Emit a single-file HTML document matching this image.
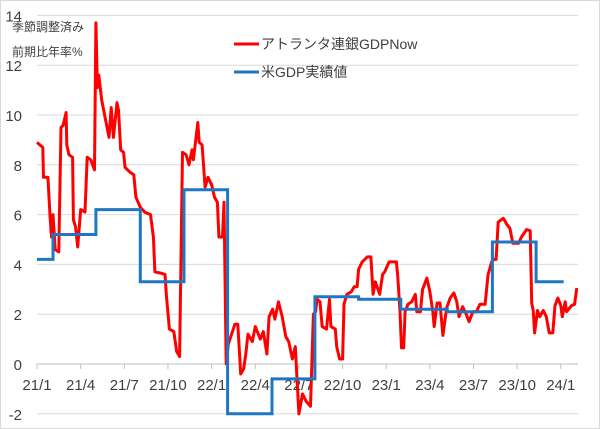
<!DOCTYPE html>
<html><head><meta charset="utf-8"><style>
html,body{margin:0;padding:0;background:#fff;}
svg{display:block;font-family:"Liberation Sans","Noto Sans CJK JP",sans-serif;}
</style></head><body>
<svg id="chart" width="600" height="429" viewBox="0 0 600 429" xmlns="http://www.w3.org/2000/svg">
<rect x="0.5" y="0.5" width="599" height="428" fill="#fff" stroke="#d9d9d9"/>
<g id="grid"></g>
<g id="yticks"></g>
<g id="xticks"></g>
<g id="series"></g>
<text x="12" y="31" font-size="12" fill="#404040">季節調整済み</text>
<text x="12" y="56" font-size="12" fill="#404040">前期比年率%</text>
<g>
<line x1="234" y1="44" x2="259" y2="44" stroke="#ff0000" stroke-width="3"/>
<text x="261" y="49" font-size="14" fill="#404040">アトランタ連銀GDPNow</text>
<line x1="234" y1="72" x2="259" y2="72" stroke="#1f77c4" stroke-width="3"/>
<text x="261" y="77" font-size="14" fill="#404040">米GDP実績値</text>
</g>
</svg>
<script>
const yTicks=[-2,0,2,4,6,8,10,12,14];
const xLabels=["21/1","21/4","21/7","21/10","22/1","22/4","22/7","22/10","23/1","23/4","23/7","23/10","24/1"];
const xLabelMonths=[0,3,6,9,12,15,18,21,24,27,30,33,36];
const actualStarts=[0,1.1,4.05,7.1,10.1,13.1,16.15,19.1,22.1,25.0,28.2,31.3,34.3];
const actualEnds=[1.1,4.05,7.1,10.1,13.1,16.15,19.1,22.1,25.0,28.2,31.3,34.3,36.2];
const actualValues=[4.2,5.2,6.2,3.3,7.0,-2.0,-0.6,2.7,2.6,2.2,2.1,4.9,3.3];
const nowMonths=[
0,0.4,0.45,0.75,0.9,1.0,1.1,1.25,1.5,1.65,
1.8,2.0,2.05,2.2,2.45,2.5,2.65,2.8,3.0,3.3,
3.45,3.7,3.95,4.05,4.15,4.25,4.45,4.75,4.95,5.1,
5.25,5.5,5.6,5.75,5.95,6.05,6.4,6.65,6.8,7.1,
7.4,7.8,8.0,8.1,8.5,8.8,8.9,9.1,9.4,9.6,
9.8,10.0,10.25,10.45,10.65,10.75,11.05,11.15,11.35,11.55,
11.75,12.0,12.2,12.4,12.5,12.75,12.85,13.0,13.15,13.6,
13.8,14.0,14.2,14.35,14.5,14.8,15.0,15.35,15.55,15.8,
15.95,16.2,16.35,16.6,16.85,17.1,17.3,17.55,17.75,18.0,
18.25,18.5,18.8,19.0,19.15,19.25,19.45,19.6,19.9,20.1,
20.2,20.5,20.6,20.8,21.0,21.1,21.3,21.6,21.8,22.0,
22.1,22.35,22.7,22.95,23.1,23.25,23.55,23.75,23.9,24.2,
24.5,24.7,24.8,24.95,25.05,25.2,25.3,25.5,25.75,26.0,
26.1,26.35,26.5,26.8,27.0,27.2,27.3,27.5,27.7,27.9,
28.15,28.4,28.65,28.85,29.0,29.25,29.5,29.7,29.95,30.2,
30.45,30.8,31.0,31.25,31.4,31.55,31.7,32.05,32.3,32.5,
32.7,33.1,33.3,33.65,33.9,34.0,34.1,34.2,34.4,34.55,
34.8,35.0,35.2,35.45,35.6,35.8,36.0,36.1,36.3,36.4,
36.75,36.95,37.1];
const nowValues=[
8.9,8.7,7.5,7.5,5.9,5.1,6.0,4.6,4.5,9.5,
9.6,10.1,8.8,8.4,8.3,5.8,5.5,4.7,6.2,6.1,
8.3,8.2,7.8,13.7,11.1,11.6,10.6,9.7,9.1,10.3,
9.1,10.5,10.2,8.6,8.5,7.9,7.7,7.6,6.7,6.3,
6.1,6.0,5.1,3.7,3.65,3.6,2.7,1.4,1.3,0.5,
0.3,8.5,8.4,8.0,8.6,8.2,9.7,8.9,8.8,7.1,
7.5,7.2,6.7,6.5,5.1,5.1,6.5,0.0,0.8,1.6,
1.6,-0.4,-0.2,0.4,1.2,0.9,1.5,1.0,1.3,0.4,
1.9,2.2,1.8,2.5,1.9,1.1,0.9,0.2,0.7,-2.0,
-1.2,-1.5,-1.7,2.0,2.1,2.6,2.5,1.5,1.4,2.6,
1.5,1.4,0.7,0.2,0.2,2.4,2.8,2.9,3.1,3.1,
3.8,4.1,4.3,4.3,2.8,3.3,2.8,3.6,3.7,4.1,
4.1,4.1,3.5,2.1,0.65,0.65,2.1,2.4,2.5,2.8,
2.1,2.1,3.0,3.45,2.9,2.1,1.5,2.45,2.45,1.15,
2.25,2.65,2.85,2.5,1.9,2.3,2.0,1.7,2.1,2.1,
2.4,2.4,3.6,4.1,4.2,4.2,5.7,5.85,5.6,5.45,
4.85,4.85,5.1,5.4,5.35,2.45,2.15,1.25,2.15,1.9,
2.15,1.9,1.25,1.25,2.35,2.65,2.35,1.9,2.5,2.1,
2.35,2.4,3.05];

const NS="http://www.w3.org/2000/svg";
const X0=37,XPM=14.55,Y0=364,YPU=24.9;
function xs(m){return X0+m*XPM;}
function ys(v){return Y0-v*YPU;}
function mk(tag,attrs,parent){const e=document.createElementNS(NS,tag);for(const k in attrs)e.setAttribute(k,attrs[k]);parent.appendChild(e);return e;}
const grid=document.getElementById('grid'),yg=document.getElementById('yticks'),xg=document.getElementById('xticks'),sg=document.getElementById('series');
yTicks.forEach(v=>{
  const l=mk('line',{x1:37,x2:578,y1:ys(v),y2:ys(v),stroke:v===0?'#bfbfbf':'#d9d9d9','stroke-width':1},grid);
  
  
  const t=mk('text',{x:22,y:ys(v)+6,'text-anchor':'end','font-size':15,fill:'#404040'},yg);
  t.textContent=v;
  
  
});
xLabelMonths.forEach((m,i)=>{
  const tk=mk('line',{x1:xs(m),x2:xs(m),y1:Y0,y2:Y0+5,stroke:'#bfbfbf'},xg);
  
  
  const t=mk('text',{x:xs(m),y:390,'text-anchor':'middle','font-size':15,fill:'#404040'},xg);
  t.textContent=xLabels[i];
  
  
});
let d='';
actualValues.forEach((v,i)=>{
  d+=(i===0?'M':'L')+xs(actualStarts[i]).toFixed(1)+' '+ys(v).toFixed(1)+' L'+xs(actualEnds[i]).toFixed(1)+' '+ys(v).toFixed(1)+' ';
});
let d2='';
const n=Math.min(nowMonths.length,nowValues.length);
for(let i=0;i<n;i++){d2+=(i===0?'M':'L')+xs(nowMonths[i]).toFixed(1)+' '+ys(nowValues[i]).toFixed(1)+' ';}
const red=mk('path',{d:d2,fill:'none',stroke:'#ff0000','stroke-width':3,'stroke-linejoin':'round'},sg);


const blue=mk('path',{d:d,fill:'none',stroke:'#1f77c4','stroke-width':3,'stroke-linejoin':'miter'},sg);


</script>
</body></html>
